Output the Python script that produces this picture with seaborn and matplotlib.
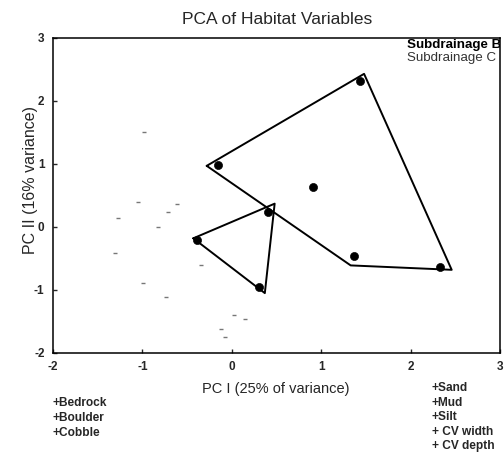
import numpy as np
import pandas as pd
import matplotlib
matplotlib.use("Agg")
import matplotlib.pyplot as plt
import seaborn as sns

# site scores
pc1 = [-0.15, 1.44, 0.91, 0.40, 1.37, 2.33, -0.39, 0.30]
pc2 = [0.98, 2.32, 0.64, 0.24, -0.46, -0.63, -0.20, -0.95]

# hull outlines for each subdrainage
hull_b_x = [-0.28, 1.48, 2.46, 1.33, -0.28]
hull_b_y = [0.97, 2.43, -0.68, -0.61, 0.97]
hull_c_x = [-0.43, 0.48, 0.37, -0.43]
hull_c_y = [-0.18, 0.37, -1.05, -0.18]

# faint specks on the left (variable loadings in the scan)
faint_x = [-0.98, -1.05, -0.71, -0.61, -0.83, -1.27, -1.31, -0.34, -0.99, -0.74, 0.03, 0.15, -0.12, -0.08]
faint_y = [1.50, 0.39, 0.24, 0.37, 0.0, 0.14, -0.41, -0.60, -0.89, -1.11, -1.40, -1.46, -1.62, -1.75]

left_vars = ["+Bedrock", "+Boulder", "+Cobble"]
right_vars = ["+Sand", "+Mud", "+Silt", "+ CV width", "+ CV depth"]
legend_labels = ["Subdrainage B", "Subdrainage C"]

sns.set_style("ticks")
plt.rcParams['font.family'] = ['Liberation Sans', 'DejaVu Sans']
plt.rcParams['axes.unicode_minus'] = False

fig = plt.figure(figsize=(5.04, 4.57), dpi=100)
ax = fig.add_axes([0.105, 0.2276, 0.887, 0.6894])

df = pd.DataFrame({"pc1": pc1, "pc2": pc2})
ax.plot(hull_b_x, hull_b_y, color="black", lw=1.4)
ax.plot(hull_c_x, hull_c_y, color="black", lw=1.4)
sns.scatterplot(data=df, x="pc1", y="pc2", color="black", s=34, edgecolor="black", ax=ax, zorder=3)
ax.scatter(faint_x, faint_y, s=6, color="#777777", marker="_", linewidths=1)

ax.set_xlim(-2, 3)
ax.set_ylim(-2, 3)
ax.set_xticks([-2, -1, 0, 1, 2, 3])
ax.set_yticks([-2, -1, 0, 1, 2, 3])
ax.tick_params(direction="in", length=3, width=1, labelsize=8.5, pad=6)
for lab in ax.get_xticklabels() + ax.get_yticklabels():
    lab.set_fontweight("bold")
for sp in ax.spines.values():
    sp.set_visible(True)
    sp.set_color("black")
    sp.set_linewidth(1.1)

ax.set_xlabel("")
ax.set_ylabel("")
fig.text(0.548, 0.149, "PC I (25% of variance)", ha="center", va="center", fontsize=10.5)
fig.text(0.06, 0.606, "PC II (16% variance)", ha="center", va="center", rotation=90, fontsize=11.5)
fig.text(0.55, 0.958, "PCA of Habitat Variables", ha="center", va="center", fontsize=12.5)

for i, t in enumerate(legend_labels):
    ax.text(0.792, 0.978 - i * 0.041, t, transform=ax.transAxes, ha="left", va="center",
            fontsize=9.6, fontweight="bold" if i == 0 else "normal",
            color="black" if i == 0 else "#333333", clip_on=True)

for i, t in enumerate(left_vars):
    fig.text(0.105, 0.118 - i * 0.033, t, ha="left", va="center", fontsize=8.6, fontweight="bold")
for i, t in enumerate(right_vars):
    fig.text(0.857, 0.151 - i * 0.032, t, ha="left", va="center", fontsize=8.6, fontweight="bold")

fig.savefig("out.png", dpi=100)
